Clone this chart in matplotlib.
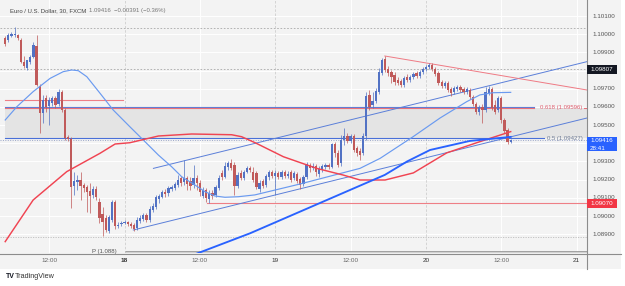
import matplotlib
matplotlib.use("Agg")
import matplotlib.pyplot as plt
import matplotlib.transforms as mtransforms
from matplotlib.patches import Rectangle
from matplotlib.lines import Line2D

# ---------------- data ----------------
opens = [1.09979,1.09968,1.09990,1.09996,1.09996,1.09968,1.09847,1.09814,1.09847,1.09875,
1.09935,1.09715,1.09567,1.09649,1.09605,1.09622,1.09649,1.09616,1.09682,1.09583,
1.09435,1.09424,1.09165,1.09187,1.09198,1.09171,1.09160,1.09138,1.09116,1.09149,
1.09077,1.09011,1.08989,1.08918,1.08978,1.09077,1.08945,1.08956,1.08962,1.08967,
1.08956,1.08951,1.08934,1.08973,1.08984,1.09006,1.08978,1.09033,1.09050,1.09094,
1.09105,1.09132,1.09127,1.09149,1.09154,1.09171,1.09209,1.09187,1.09209,1.09193,
1.09171,1.09209,1.09182,1.09110,1.09143,1.09094,1.09127,1.09116,1.09154,1.09237,
1.09215,1.09270,1.09292,1.09281,1.09165,1.09237,1.09209,1.09242,1.09264,1.09242,
1.09237,1.09149,1.09193,1.09171,1.09215,1.09242,1.09220,1.09237,1.09215,1.09242,
1.09220,1.09242,1.09209,1.09231,1.09204,1.09176,1.09215,1.09281,1.09264,1.09275,
1.09231,1.09253,1.09270,1.09281,1.09270,1.09396,1.09347,1.09292,1.09418,1.09440,
1.09413,1.09440,1.09374,1.09358,1.09347,1.09440,1.09666,1.09611,1.09633,1.09682,
1.09787,1.09864,1.09809,1.09792,1.09776,1.09748,1.09743,1.09721,1.09765,1.09748,
1.09765,1.09787,1.09770,1.09792,1.09809,1.09820,1.09831,1.09809,1.09787,1.09737,
1.09715,1.09732,1.09699,1.09682,1.09699,1.09710,1.09699,1.09682,1.09693,1.09655,
1.09616,1.09572,1.09600,1.09583,1.09677,1.09699,1.09611,1.09583,1.09649,1.09528,
1.09473,1.09407]
highs = [1.09990,1.10007,1.10012,1.10040,1.10001,1.09979,1.09880,1.09858,1.09886,1.09957,
1.09996,1.09726,1.09666,1.09666,1.09655,1.09660,1.09660,1.09699,1.09693,1.09594,
1.09446,1.09435,1.09242,1.09226,1.09242,1.09182,1.09171,1.09182,1.09165,1.09165,
1.09099,1.09050,1.09006,1.09006,1.09088,1.09088,1.08967,1.08973,1.08978,1.08973,
1.08967,1.08962,1.08995,1.09006,1.09017,1.09017,1.09055,1.09072,1.09116,1.09121,
1.09143,1.09149,1.09165,1.09171,1.09187,1.09226,1.09220,1.09308,1.09220,1.09215,
1.09281,1.09226,1.09198,1.09160,1.09154,1.09143,1.09143,1.09171,1.09226,1.09253,
1.09297,1.09303,1.09314,1.09297,1.09242,1.09253,1.09253,1.09275,1.09275,1.09270,
1.09248,1.09198,1.09204,1.09231,1.09253,1.09253,1.09253,1.09248,1.09253,1.09253,
1.09248,1.09253,1.09248,1.09242,1.09215,1.09226,1.09297,1.09292,1.09292,1.09286,
1.09275,1.09286,1.09292,1.09292,1.09402,1.09407,1.09363,1.09446,1.09484,1.09457,
1.09451,1.09451,1.09385,1.09374,1.09457,1.09682,1.09693,1.09682,1.09704,1.09814,
1.09869,1.09880,1.09825,1.09803,1.09792,1.09765,1.09754,1.09770,1.09781,1.09776,
1.09792,1.09798,1.09803,1.09820,1.09831,1.09842,1.09842,1.09820,1.09798,1.09748,
1.09743,1.09743,1.09710,1.09715,1.09721,1.09721,1.09710,1.09710,1.09704,1.09666,
1.09627,1.09611,1.09616,1.09710,1.09715,1.09710,1.09638,1.09660,1.09660,1.09539,
1.09484,1.09424]
lows = [1.09935,1.09957,1.09985,1.09985,1.09968,1.09842,1.09814,1.09803,1.09836,1.09869,
1.09715,1.09457,1.09512,1.09572,1.09501,1.09605,1.09594,1.09605,1.09572,1.09418,
1.09413,1.09044,1.09116,1.09143,1.09088,1.09132,1.09022,1.09017,1.09099,1.09088,
1.08962,1.08890,1.08912,1.08907,1.08967,1.08929,1.08934,1.08945,1.08956,1.08945,
1.08934,1.08918,1.08923,1.08962,1.08973,1.08967,1.08967,1.09022,1.09039,1.09072,
1.09099,1.09105,1.09110,1.09138,1.09143,1.09160,1.09165,1.09171,1.09143,1.09143,
1.09154,1.09143,1.09110,1.09099,1.09077,1.09072,1.09094,1.09105,1.09143,1.09198,
1.09209,1.09253,1.09253,1.09116,1.09154,1.09198,1.09198,1.09237,1.09242,1.09187,
1.09149,1.09132,1.09154,1.09160,1.09198,1.09209,1.09116,1.09204,1.09204,1.09209,
1.09209,1.09187,1.09198,1.09182,1.09149,1.09165,1.09204,1.09242,1.09253,1.09220,
1.09215,1.09242,1.09259,1.09259,1.09264,1.09325,1.09270,1.09275,1.09391,1.09402,
1.09402,1.09352,1.09330,1.09308,1.09336,1.09418,1.09583,1.09594,1.09622,1.09671,
1.09776,1.09792,1.09770,1.09732,1.09721,1.09721,1.09710,1.09710,1.09737,1.09737,
1.09754,1.09759,1.09759,1.09781,1.09798,1.09809,1.09798,1.09770,1.09721,1.09704,
1.09704,1.09682,1.09660,1.09671,1.09688,1.09682,1.09671,1.09671,1.09644,1.09605,
1.09561,1.09556,1.09512,1.09572,1.09666,1.09583,1.09561,1.09572,1.09512,1.09457,
1.09396,1.09402]
closes = [1.09946,1.09996,1.10001,1.10001,1.09979,1.09847,1.09825,1.09858,1.09875,1.09941,
1.09721,1.09567,1.09638,1.09600,1.09638,1.09649,1.09611,1.09682,1.09583,1.09429,
1.09424,1.09160,1.09193,1.09198,1.09165,1.09154,1.09132,1.09110,1.09149,1.09105,
1.08989,1.08967,1.08923,1.08995,1.09077,1.08945,1.08951,1.08962,1.08967,1.08956,
1.08945,1.08929,1.08978,1.08989,1.09006,1.08978,1.09039,1.09055,1.09105,1.09110,
1.09132,1.09121,1.09154,1.09160,1.09176,1.09198,1.09182,1.09209,1.09176,1.09165,
1.09209,1.09182,1.09132,1.09143,1.09099,1.09127,1.09110,1.09160,1.09209,1.09215,
1.09275,1.09292,1.09264,1.09165,1.09226,1.09209,1.09242,1.09264,1.09253,1.09198,
1.09160,1.09182,1.09165,1.09220,1.09242,1.09220,1.09237,1.09215,1.09242,1.09220,
1.09231,1.09198,1.09237,1.09193,1.09171,1.09215,1.09286,1.09264,1.09275,1.09242,
1.09259,1.09275,1.09281,1.09270,1.09396,1.09347,1.09281,1.09418,1.09440,1.09413,
1.09440,1.09363,1.09347,1.09336,1.09440,1.09660,1.09600,1.09633,1.09688,1.09792,
1.09858,1.09803,1.09787,1.09765,1.09737,1.09732,1.09721,1.09759,1.09748,1.09765,
1.09781,1.09770,1.09792,1.09809,1.09820,1.09831,1.09809,1.09781,1.09732,1.09715,
1.09732,1.09693,1.09677,1.09704,1.09710,1.09693,1.09682,1.09699,1.09655,1.09616,
1.09572,1.09600,1.09583,1.09682,1.09699,1.09594,1.09572,1.09649,1.09528,1.09468,
1.09407,1.09416]

# indicator curves (bar index, price)
ma_fast_idx = [0, 3.7, 8.9, 14.3, 18.5, 21.2, 23.3, 26, 30.2, 34.4, 39.7, 44.5, 48.8, 53, 56.2,
               60.4, 63.6, 66.8, 70, 74.2, 79.5, 93.9, 113, 119.4, 129.9, 138.5, 147, 151.2, 155.3, 161]
ma_fast_val = [1.09528, 1.09601, 1.09684, 1.09757, 1.09794, 1.09803, 1.09799, 1.09766, 1.09675, 1.09583,
               1.09491, 1.09409, 1.09335, 1.09271, 1.09216, 1.09171, 1.09134, 1.09110, 1.09103, 1.09106,
               1.09116, 1.09176, 1.09262, 1.09317, 1.09436, 1.09539, 1.09629, 1.09666, 1.09678, 1.09680]
ma_red_idx = [0, 8.9, 19.6, 30.2, 35, 39.7, 48.8, 59.4, 72.1, 75.3, 79.6, 88.6, 99.2, 107.7, 113,
              121, 130, 140.6, 151.2, 161]
ma_red_val = [1.08859, 1.09088, 1.09244, 1.09345, 1.09396, 1.09403, 1.09440, 1.09451, 1.09447, 1.09436,
              1.09403, 1.09326, 1.09262, 1.09225, 1.09198, 1.09198, 1.09237, 1.09347, 1.09409, 1.09464]
ma_slow_idx = [59, 78, 120.9, 128, 135.3, 148, 161]
ma_slow_val = [1.08780, 1.08905, 1.09226, 1.09300, 1.09363, 1.09413, 1.09435]

chan_up = ([47.2, 185.3], [1.09262, 1.09849])
chan_lo = ([40.8, 185.3], [1.08923, 1.09539])
trend_red = ([120.9, 185.3], [1.09880, 1.09693])

fib_618 = 1.09596
fib_50 = 1.09427
last_price = 1.09416
red_level_short = 1.09638
red_level = 1.09070
black_level = 1.09807
dash_level = 1.10036
dot_level = 1.08885
pivot = 1.08800

price_ticks = [1.101, 1.100, 1.099, 1.097, 1.096, 1.095, 1.093, 1.092, 1.091, 1.090, 1.089]
time_ticks = [14, 38, 62, 86, 110, 134, 158, 182]
time_labels = ["12:00", "18", "12:00", "19", "12:00", "20", "12:00", "21"]

# ---------------- figure ----------------
W, H = 625, 286
FONT = "Liberation Sans"
fig = plt.figure(figsize=(W / 100, H / 100), dpi=100, facecolor="white")
BG = "#f3f3f3"
fig.patches.append(Rectangle((0, 1 - 269 / H), 621 / W, 269 / H, transform=fig.transFigure,
                             facecolor=BG, edgecolor="none", zorder=-5))
ax = fig.add_axes([0, 1 - 253 / H, 587 / W, 253 / H])
ax.set_zorder(1)
ax.set_facecolor(BG)
ax.set_xlim(-1.66, 185.3)
ax.set_ylim(1.087965, 1.10188)
for s in ["top", "left", "right", "bottom"]:
    ax.spines[s].set_visible(False)
ax.set_xticks([])
ax.set_yticks([])

# grid
for p in [1.089 + 0.001 * k for k in range(13)]:
    ax.axhline(p, color="white", lw=0.7, zorder=1)
for t in time_ticks:
    if t in (38, 86, 134):
        ax.axvline(t, color="#cfcfcf", lw=0.6, ls=(0, (3, 2)), zorder=1)
    else:
        ax.axvline(t, color="white", lw=0.7, zorder=1)

# fib zone
ax.fill_between([0, 185.3], fib_50, fib_618, color="#e4e4e4", zorder=1.5, lw=0)
ax.plot([0, 168.5], [fib_618 + 0.00002] * 2, color="#5b7fd9", lw=0.8, zorder=2)
ax.plot([0, 168.5], [fib_618 - 0.00002] * 2, color="#e8707a", lw=0.8, zorder=2)
ax.plot([184.3, 185.3], [fib_618] * 2, color="#e8707a", lw=0.8, zorder=2)
ax.plot([0, 171.5], [fib_50 + 0.00001] * 2, color="#4a70d8", lw=0.8, zorder=2)
ax.text(183.8, fib_618, "0.618 (1.09596)", color="#e06070", fontsize=4.3, ha="right", va="center",
        family=FONT, zorder=3)
ax.text(183.8, fib_50, "0.5 (1.09427)", color="#6f7c96", fontsize=4.3, ha="right", va="center",
        family=FONT, zorder=3)

# horizontal levels
ax.axhline(dash_level, color="#a8a8a8", lw=0.6, ls=(0, (2, 2)), zorder=2)
ax.axhline(black_level, color="#a8a8a8", lw=0.6, ls=(0, (2, 2)), zorder=2)
ax.axhline(dot_level, color="#bdbdbd", lw=0.6, ls=(0, (1.5, 1.5)), zorder=2)
ax.axhline(last_price, color="#9aa6c8", lw=0.7, ls=(0, (1, 1.5)), zorder=2)
ax.plot([0, 37.5], [red_level_short] * 2, color="#ee7f86", lw=0.8, zorder=2)
ax.plot([64.3, 185.3], [red_level] * 2, color="#ee7f86", lw=0.8, zorder=2)
ax.plot([38.1, 185.3], [pivot] * 2, color="#9a9a9a", lw=2.0, zorder=2, solid_capstyle="butt")
ax.plot([38.1, 185.3], [pivot] * 2, color="#dcdcdc", lw=0.6, zorder=2.1, solid_capstyle="butt")
ax.text(35.5, pivot + 0.00003, "P (1.088)", color="#555555", fontsize=4.3, ha="right", va="center",
        family=FONT, zorder=3)

# trend lines
ax.plot(*chan_up, color="#5b7fd9", lw=0.7, zorder=2)
ax.plot(*chan_lo, color="#5b7fd9", lw=0.7, zorder=2)
ax.plot(*trend_red, color="#ef7a84", lw=0.7, zorder=2)

# candles
UP, DN = "#5272c4", "#c05a5a"
for i, (o, h, l, c) in enumerate(zip(opens, highs, lows, closes)):
    col = UP if c >= o else DN
    ax.plot([i, i], [l, h], color=col, lw=0.6, alpha=0.85, zorder=3, solid_capstyle="butt")
    bot = min(o, c)
    hgt = max(abs(c - o), 0.00003)
    ax.add_patch(Rectangle((i - 0.36, bot), 0.72, hgt, facecolor=col, edgecolor="none", zorder=3.5))

# indicator curves
ax.plot(ma_fast_idx, ma_fast_val, color="#6a9af0", lw=0.85, zorder=4)
ax.plot(ma_red_idx, ma_red_val, color="#f04452", lw=1.05, zorder=4)
ax.plot(ma_slow_idx, ma_slow_val, color="#2962ff", lw=1.35, zorder=4)

# axis frame lines
fig.add_artist(Line2D([587 / W, 587 / W], [1 - 269 / H, 1], color="#8c8c8c", lw=0.8,
                      transform=fig.transFigure, zorder=3))
fig.add_artist(Line2D([0, 621 / W], [1 - 253.5 / H] * 2, color="#8c8c8c", lw=0.8,
                      transform=fig.transFigure, zorder=3))

# price axis labels
tr_y = mtransforms.blended_transform_factory(fig.transFigure, ax.transData)
for p in price_ticks:
    fig.text(592 / W, p, f"{p:.5f}", transform=tr_y, color="#555555", fontsize=4.5, ha="left", va="center",
             family=FONT, zorder=4)


def box(price, hpx, color, lines):
    hp = hpx * 0.000055
    fig.patches.append(Rectangle((587 / W, price - hp / 2), 30 / W, hp, transform=tr_y,
                                 facecolor=color, edgecolor="none", zorder=5))
    for txt, pp in lines:
        fig.text(590 / W, pp, txt, transform=tr_y, color="white", fontsize=4.5, ha="left", va="center",
                 family=FONT, zorder=6)


box(black_level, 8.5, "#131722", [("1.09807", black_level)])
box(1.09396, 14, "#2962ff", [("1.09416", 1.09418), ("28:41", 1.09373)])
box(red_level, 8.5, "#f23645", [("1.09070", red_level)])

# time axis labels
tr_x = mtransforms.blended_transform_factory(ax.transData, fig.transFigure)
for t, lab in zip(time_ticks, time_labels):
    day = ":" not in lab
    fig.text(t, 1 - 260.5 / H, lab, transform=tr_x, color="#333333" if day else "#666666",
             fontsize=4.6, ha="center", va="center", family=FONT,
             fontweight="bold" if lab == "18" else "normal", zorder=4)

# title / legend
fig.text(10 / W, 1 - 10.5 / H, "Euro / U.S. Dollar, 30, FXCM", color="#444444", fontsize=4.3,
         ha="left", va="center", family=FONT, zorder=6)
fig.text(89 / W, 1 - 10.5 / H, "1.09416  \u22120.00391 (\u22120.36%)", color="#777777", fontsize=4.3,
         ha="left", va="center", family=FONT, zorder=6)

# branding
fig.text(6 / W, 1 - 276 / H, "TV", color="#131722", fontsize=5, fontweight="bold", ha="left", va="center",
         family=FONT)
fig.text(15 / W, 1 - 276 / H, "TradingView", color="#333333", fontsize=5.2, ha="left", va="center",
         family=FONT)

fig.savefig("out.png", dpi=100, facecolor="white")
